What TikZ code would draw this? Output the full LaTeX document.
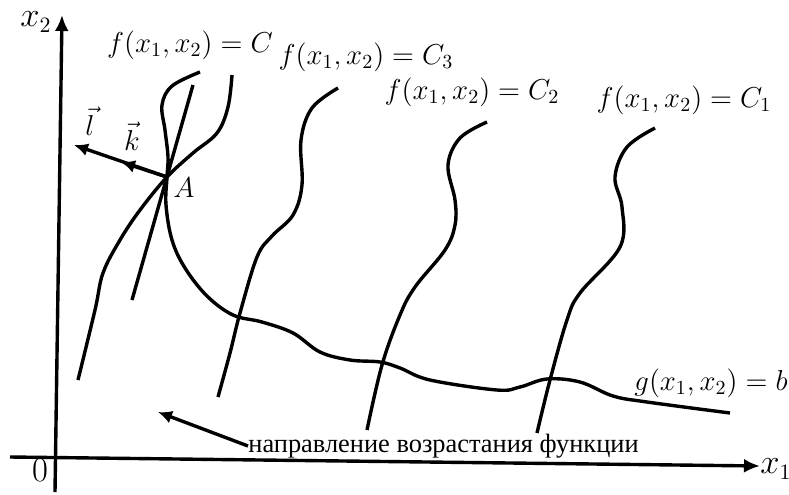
\documentclass[tikz,border=0pt]{standalone}
\usepackage{fontspec}
\setmainfont{Liberation Serif}
\usetikzlibrary{arrows.meta}

\begin{document}
\begin{tikzpicture}
[
	curve/.style={line width=1.7pt,smooth,tension=0.6},
	axis/.style={line width=1.7pt,-{Latex[length=8pt,width=7pt]}},
	vec/.style={line width=1.7pt,-{Latex[length=7pt,width=6.5pt]}},
	lbl/.style={inner sep=0pt,font=\fontsize{14}{16}\selectfont},
	axlbl/.style={inner sep=0pt,font=\fontsize{16}{18}\selectfont},
	x=0.5pt,
	y=-0.5pt
]
	\useasboundingbox (0,0) rectangle (789,494);

	% axes
	\coordinate (xs) at (10,457);
	\coordinate (xe) at (760,466);
	\coordinate (ys) at (55,492);
	\coordinate (ye) at (62,15);
	\draw[axis] (xs) -- (xe);
	\draw[axis] (ys) -- (ye);
	\node[axlbl] (xone) at (776,469) {$x_1$};
	\node[axlbl] (xtwo) at (36,22) {$x_2$};
	\node[axlbl] (zero) at (40,470) {$0$};

	% constraint g = b
	\draw[curve] plot coordinates {(200,72) (172,86) (162,105) (165,130) (168,157)
		(167,177) (166,205) (172,240) (185,268) (207,296) (233,315) (262,322)
		(293,333) (320,352) (350,360) (380,362) (400,368) (430,380) (497,390)
		(520,387) (547,379) (580,382) (613,396) (647,402) (730,413)};
	\node[lbl] (g) at (711,383) {$g(x_1,x_2)=b$};

	% level lines
	\draw[curve] plot coordinates {(232,75) (228,107) (217,133) (193,153) (167,177)
		(140,210) (120,240) (103,273) (95,310) (78,380)};
	\node[lbl] (fC) at (190,45) {$f(x_1,x_2)=C$};

	\draw[curve] plot coordinates {(338,88) (312,108) (301,140) (302,185)
		(293,215) (272,236) (257,257) (240,313) (230,353) (218,397)};
	\node[lbl] (fCthree) at (366,57) {$f(x_1,x_2)=C_3$};

	\draw[curve] plot coordinates {(487,122) (460,138) (448,165) (455,200) (455,225)
		(445,250) (415,287) (400,315) (382,365) (367,430)};
	\node[lbl] (fCtwo) at (472,92) {$f(x_1,x_2)=C_2$};

	\draw[curve] plot coordinates {(655,128) (627,147) (615,177) (622,207) (620,247)
		(580,293) (567,320) (550,380) (537,433)};
	\node[lbl] (fCone) at (684,100) {$f(x_1,x_2)=C_1$};

	% tangent line and vectors at A
	\coordinate (A) at (167,177);
	\coordinate (tt) at (193,85);
	\coordinate (tb) at (132,300);
	\draw[line width=1.7pt] (tt) -- (tb);
	\node[lbl] (Alab) at (184,188) {$A$};
	\coordinate (ktip) at (121,162);
	\coordinate (ltip) at (74,145);
	\draw[vec] (A) -- (ltip);
	\draw[vec] (A) -- (ktip);
	\node[lbl] (l) at (90,121) {$\vec{l}$};
	\node[lbl] (k) at (132,136) {$\vec{k}$};

	% direction of growth
	\node[lbl,anchor=west,font=\fontsize{13.2}{15}\selectfont] (dir) at (248,446) {направление возрастания функции};
	\coordinate (dtip) at (158,412);
	\draw[vec] (dir.west) -- (dtip);

\end{tikzpicture}
\end{document}
